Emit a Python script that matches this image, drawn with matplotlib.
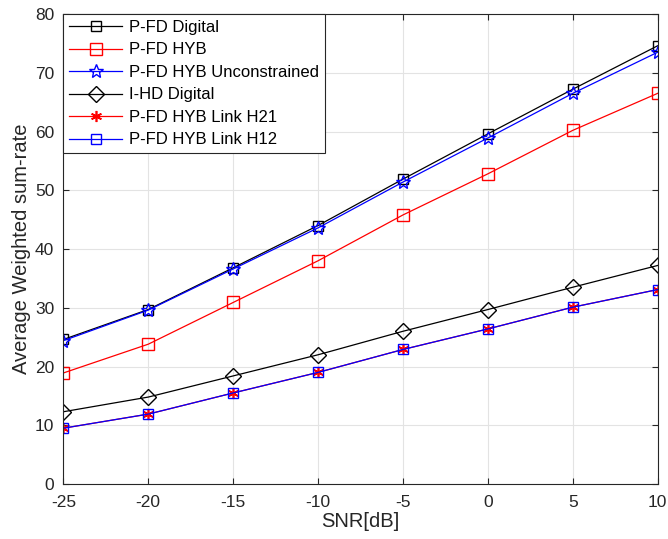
import numpy as np
from matplotlib import pyplot as plt

plt.rcParams['font.family'] = ['Liberation Sans', 'DejaVu Sans']
plt.rcParams['axes.unicode_minus'] = False

# SNR values and curves
snr = [-25, -20, -15, -10, -5, 0, 5, 10]
pfd_digital = [24.6, 29.7, 36.8, 44.0, 51.9, 59.6, 67.2, 74.6]
pfd_hyb = [18.9, 23.8, 30.9, 38.0, 45.8, 52.8, 60.2, 66.5]
pfd_hyb_uncon = [24.4, 29.6, 36.6, 43.6, 51.4, 58.9, 66.5, 73.5]
ihd_digital = [12.3, 14.8, 18.4, 22.0, 26.0, 29.7, 33.5, 37.2]
link_h21 = [9.5, 11.9, 15.5, 19.0, 22.9, 26.4, 30.1, 33.1]
link_h12 = [9.5, 11.9, 15.5, 19.0, 22.9, 26.4, 30.1, 33.1]

fig = plt.figure(figsize=(6.68, 5.39), dpi=100)
ax = fig.add_axes([0.0948, 0.102, 0.8898, 0.872])

lw = 0.9
ax.plot(snr, pfd_digital, 'k-s', lw=lw, ms=7, mfc='none', mew=1.0, label='P-FD Digital')
ax.plot(snr, pfd_hyb, 'r-s', lw=lw, ms=8, mfc='none', mew=1.0, label='P-FD HYB')
ax.plot(snr, pfd_hyb_uncon, 'b-*', lw=lw, ms=10, mfc='none', mew=1.0, label='P-FD HYB Unconstrained')
ax.plot(snr, ihd_digital, 'k-D', lw=lw, ms=8, mfc='none', mew=1.0, label='I-HD Digital')
ax.plot(snr, link_h21, 'r-', marker=(6, 2, 0), lw=lw, ms=8, mew=1.2, label='P-FD HYB Link H21')
ax.plot(snr, link_h12, 'b-s', lw=lw, ms=7, mfc='none', mew=1.0, label='P-FD HYB Link H12')

ax.set_xlim(-25, 10)
ax.set_ylim(0, 80)
ax.set_xticks(np.arange(-25, 11, 5))
ax.set_yticks(np.arange(0, 81, 10))
ax.grid(True, color='#e3e3e3', lw=0.8)
ax.set_axisbelow(True)
ax.tick_params(direction='in', top=True, right=True, labelsize=12.5, colors='#262626', length=4)
ax.tick_params(axis='x', pad=8)
ax.tick_params(axis='y', pad=6.5)
for s in ax.spines.values():
    s.set_color('#262626')
    s.set_linewidth(0.8)

ax.set_xlabel('SNR[dB]', fontsize=14.5, color='#262626', labelpad=1)
ax.set_ylabel('Average Weighted sum-rate', fontsize=14.5, color='#262626', labelpad=3)

leg = ax.legend(loc='upper left', fontsize=12, fancybox=False, framealpha=1,
                edgecolor='#262626', borderaxespad=0, handlelength=3.2,
                labelspacing=0.45, borderpad=0.35, handletextpad=0.4)
leg.get_frame().set_linewidth(0.8)

fig.savefig('out.png', dpi=100)
